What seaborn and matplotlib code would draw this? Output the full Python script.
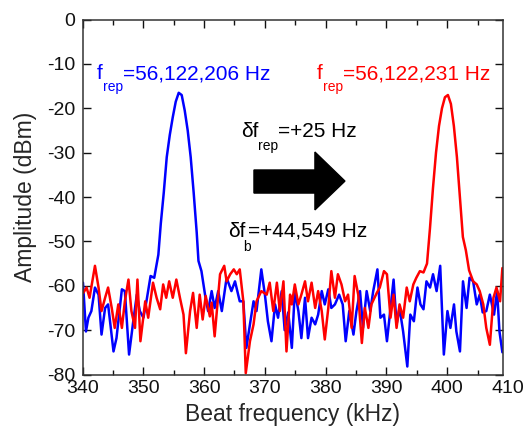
import matplotlib
matplotlib.use("Agg")
import matplotlib.pyplot as plt
from matplotlib.patches import Polygon
from matplotlib.ticker import MultipleLocator
import seaborn as sns
import pandas as pd

# ---------------- data ----------------
freq_blue = [
    340.08, 340.57, 340.97, 341.46, 342.05, 342.64, 343.13, 343.72, 344.21, 345.10,
    345.59, 346.48, 346.97, 347.66, 348.35, 348.94, 349.43, 350.02, 350.52, 351.20,
    351.80, 352.19, 352.48, 352.88, 353.37, 353.86, 354.36, 354.85, 355.34, 355.83,
    356.32, 356.82, 357.31, 357.80, 358.29, 358.79, 359.08, 359.57, 360.16, 360.66,
    361.25, 361.74, 362.33, 362.92, 363.71, 364.50, 365.09, 365.87, 366.46, 366.96,
    367.55, 368.14, 368.63, 369.42, 370.01, 370.50, 371.09, 371.68, 372.17, 372.77,
    373.26, 373.85, 374.44, 374.93, 375.52, 376.01, 376.61, 377.10, 377.69, 378.28,
    378.77, 379.36, 379.86, 380.44, 380.94, 381.53, 382.22, 382.81, 383.30, 383.89,
    384.58, 385.07, 385.66, 386.15, 386.75, 387.34, 387.83, 388.52, 389.01, 389.60,
    390.09, 390.68, 391.18, 391.67, 392.16, 392.75, 393.44, 393.93, 394.52, 395.11,
    395.60, 396.10, 396.59, 397.18, 397.67, 398.26, 398.85, 399.45, 400.04, 400.53,
    401.12, 401.51, 402.10, 402.60, 403.19, 403.68, 404.27, 404.86, 405.35, 405.84,
    406.43, 407.02, 407.71, 408.21, 408.60, 409.08,
]
amp_blue = [
    -59.3, -70.3, -67.2, -65.7, -60.4, -62.0, -71.0, -65.0, -64.2, -74.8,
    -71.8, -60.8, -61.2, -75.5, -68.0, -62.0, -65.7, -67.2, -63.5, -57.8,
    -58.2, -55.2, -53.0, -46.0, -39.0, -31.0, -26.0, -22.0, -18.5, -16.5,
    -17.0, -20.5, -25.0, -31.0, -39.0, -48.0, -54.4, -56.7, -62.0, -65.7,
    -61.2, -65.0, -61.2, -65.7, -58.2, -61.2, -59.0, -63.5, -63.5, -74.0,
    -68.7, -63.5, -65.7, -56.3, -62.0, -68.0, -72.5, -64.2, -67.2, -61.2,
    -70.0, -66.0, -74.0, -61.2, -65.7, -71.8, -62.7, -71.8, -67.2, -68.7,
    -66.5, -61.2, -64.2, -60.8, -65.0, -64.2, -62.0, -64.2, -72.5, -65.7,
    -71.0, -65.7, -61.2, -69.5, -61.2, -65.7, -61.2, -56.3, -67.2, -66.5,
    -72.5, -65.0, -58.6, -68.7, -65.0, -70.3, -78.2, -66.5, -68.0, -60.4,
    -64.2, -65.3, -59.0, -60.4, -57.4, -61.2, -55.5, -75.5, -65.7, -69.5,
    -64.2, -70.3, -74.8, -59.0, -65.0, -58.2, -59.0, -64.2, -62.0, -66.0,
    -65.7, -62.0, -66.5, -61.2, -70.3, -75.0,
]

freq_red = [
    340.13, 340.67, 341.16, 342.05, 342.64, 343.13, 343.72, 344.21, 344.81, 345.30,
    345.89, 346.48, 346.97, 347.56, 348.05, 348.64, 349.04, 349.53, 350.32, 350.81,
    351.60, 352.19, 352.78, 353.27, 353.77, 354.26, 354.85, 355.44, 356.03, 356.62,
    357.01, 357.70, 358.19, 358.79, 359.28, 359.77, 360.27, 360.95, 361.25, 361.74,
    362.63, 363.32, 363.71, 364.30, 364.89, 365.38, 365.87, 366.46, 366.86, 367.55,
    368.14, 368.63, 369.42, 370.31, 370.80, 371.39, 371.98, 372.47, 373.06, 373.56,
    374.15, 374.44, 374.93, 375.52, 376.01, 376.61, 377.10, 377.69, 378.28, 378.77,
    379.36, 379.86, 380.44, 380.94, 381.53, 382.02, 382.61, 383.20, 383.69, 384.28,
    384.77, 385.36, 385.96, 386.45, 387.04, 387.53, 388.42, 388.91, 389.60, 390.09,
    390.68, 391.18, 391.67, 392.16, 392.75, 393.34, 393.84, 394.43, 394.92, 395.51,
    396.10, 396.68, 397.17, 397.66, 398.16, 398.65, 399.14, 399.63, 400.12, 400.61,
    401.10, 401.60, 402.09, 402.58, 403.07, 403.60, 404.27, 404.86, 405.35, 405.94,
    406.43, 407.02, 407.61, 408.11, 408.70, 409.08,
]
amp_red = [
    -61.6, -60.4, -62.7, -55.5, -60.4, -65.7, -62.7, -60.4, -65.0, -69.5,
    -64.2, -69.5, -63.5, -58.6, -65.7, -69.5, -58.6, -72.5, -63.5, -67.2,
    -59.3, -62.7, -65.3, -59.7, -62.7, -59.0, -62.7, -58.6, -62.7, -66.5,
    -75.2, -65.7, -61.6, -69.5, -62.0, -67.6, -62.3, -66.9, -63.8, -71.4,
    -57.4, -55.5, -59.0, -57.4, -56.3, -57.4, -56.3, -63.5, -79.7, -72.5,
    -68.7, -63.5, -61.2, -62.0, -59.3, -65.7, -59.3, -65.7, -59.0, -74.8,
    -62.0, -64.2, -59.7, -64.2, -62.0, -59.0, -63.5, -59.3, -65.0, -61.2,
    -65.7, -72.1, -65.0, -56.7, -62.7, -57.4, -59.7, -63.5, -62.0, -69.5,
    -57.8, -62.0, -72.9, -65.0, -69.5, -64.2, -61.6, -60.4, -56.7, -57.4,
    -67.2, -62.0, -69.5, -64.2, -67.2, -60.4, -63.5, -59.7, -58.2, -56.7,
    -57.0, -55.0, -47.0, -38.0, -30.0, -24.0, -20.0, -17.5, -17.0, -19.0,
    -24.0, -31.0, -40.0, -49.0, -52.0, -56.5, -59.0, -59.7, -61.2, -64.2,
    -69.5, -73.3, -62.7, -60.4, -63.5, -56.0,
]

xticks = [340, 350, 360, 370, 380, 390, 400]
extra_xtick = 410          # label drawn just past the right frame, as in the reference
yticks = [-80, -70, -60, -50, -40, -30, -20, -10, 0]

df = pd.concat([
    pd.DataFrame({"freq": freq_blue, "amp": amp_blue, "trace": "blue"}),
    pd.DataFrame({"freq": freq_red, "amp": amp_red, "trace": "red"}),
], ignore_index=True)

# ---------------- style ----------------
sns.set_style("ticks")
plt.rcParams["font.family"] = ["Liberation Sans", "DejaVu Sans"]
plt.rcParams["axes.unicode_minus"] = False

W, H = 529, 426
fig = plt.figure(figsize=(W / 100, H / 100), dpi=100)
left, right, top, bottom = 82.5, 502.5, 19.6, 374.5
ax = fig.add_axes([left / W, 1 - bottom / H, (right - left) / W, (bottom - top) / H])

sns.lineplot(data=df, x="freq", y="amp", hue="trace",
             palette={"blue": "#0000ff", "red": "#ff0000"},
             estimator=None, sort=False, linewidth=1.8, legend=False, ax=ax)

ax.set_xlim(340, 409.1)
ax.set_ylim(-80, 0)
ax.set_xticks(xticks)
ax.set_yticks(yticks)
ax.xaxis.set_minor_locator(MultipleLocator(5))
ax.tick_params(axis="both", which="both", direction="in", top=True, right=True,
               labelsize=14, colors="#111111")
ax.tick_params(axis="both", which="major", length=6, width=1)
ax.tick_params(axis="x", which="minor", length=3.5, width=1)
ax.tick_params(axis="x", pad=4)
ax.tick_params(axis="y", pad=5)
for s in ax.spines.values():
    s.set_color("#333333")
    s.set_linewidth(1.1)

ax.annotate(str(extra_xtick), xy=(extra_xtick, 0), xycoords=("data", "axes fraction"),
            xytext=(0, -4), textcoords="offset points", ha="center", va="top",
            fontsize=14, color="#111111", annotation_clip=False)

ax.set_xlabel("Beat frequency (kHz)", fontsize=16.5, labelpad=4)
ax.set_ylabel("Amplitude (dBm)", fontsize=16.5, labelpad=7)

# ---------------- annotations ----------------
big = 15
small = 10
# blue label
ax.text(342.38, -13.4, "f", color="#0000ff", fontsize=big, va="baseline", ha="left")
ax.text(343.37, -16.0, "rep", color="#0000ff", fontsize=small, va="baseline", ha="left")
ax.text(346.66, -13.4, "=56,122,206 Hz", color="#0000ff", fontsize=big, va="baseline", ha="left")
# red label
ax.text(378.57, -13.4, "f", color="#ff0000", fontsize=big, va="baseline", ha="left")
ax.text(379.56, -16.0, "rep", color="#ff0000", fontsize=small, va="baseline", ha="left")
ax.text(382.85, -13.4, "=56,122,231 Hz", color="#ff0000", fontsize=big, va="baseline", ha="left")
# delta f_rep
ax.text(366.07, -26.5, "\u03b4f", color="black", fontsize=big, va="baseline", ha="left")
ax.text(368.87, -29.4, "rep", color="black", fontsize=small, va="baseline", ha="left")
ax.text(372.15, -26.5, "=+25 Hz", color="black", fontsize=big, va="baseline", ha="left")
# delta f_b
ax.text(363.93, -49.0, "\u03b4f", color="black", fontsize=big, va="baseline", ha="left")
ax.text(366.5, -52.2, "b", color="black", fontsize=small, va="baseline", ha="left")
ax.text(367.2, -49.0, "=+44,549 Hz", color="black", fontsize=big, va="baseline", ha="left")

# arrow
arrow = Polygon([(368.21, -33.9), (378.24, -33.9), (378.24, -29.85), (383.18, -36.4),
                 (378.24, -42.9), (378.24, -39.1), (368.21, -39.1)],
                closed=True, facecolor="black", edgecolor="black", zorder=5)
ax.add_patch(arrow)

fig.savefig("out.png", dpi=100)
